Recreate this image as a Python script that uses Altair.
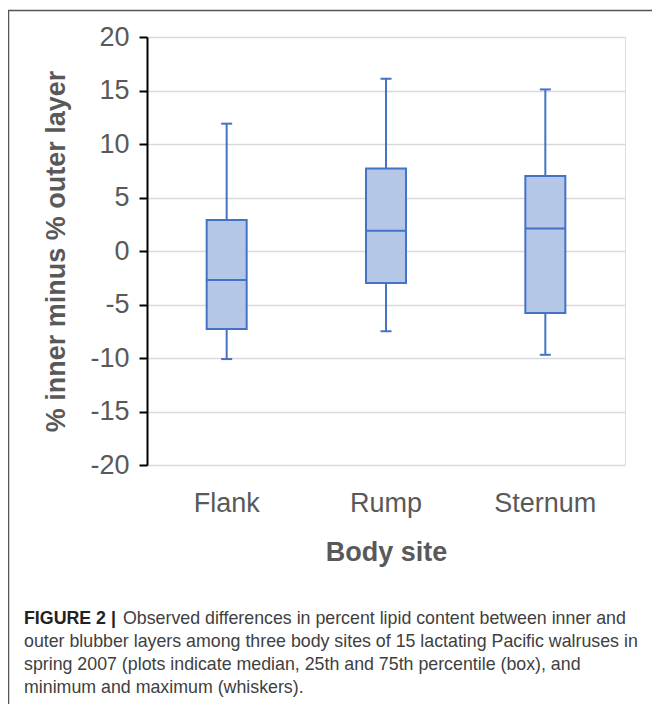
import altair as alt
import pandas as pd

# ---- data ----
sites = ["Flank", "Rump", "Sternum"]
mins = [-10.1, -7.5, -9.7]
q1s = [-7.3, -3.0, -5.8]
medians = [-2.7, 1.9, 2.1]
q3s = [2.9, 7.7, 7.0]
maxs = [11.9, 16.1, 15.1]
y_ticks = [-20, -15, -10, -5, 0, 5, 10, 15, 20]

caption_bold = "FIGURE 2 |"
caption_lines = [
    "Observed differences in percent lipid content between inner and",
    "outer blubber layers among three body sites of 15 lactating Pacific walruses in",
    "spring 2007 (plots indicate median, 25th and 75th percentile (box), and",
    "minimum and maximum (whiskers).",
]

df = pd.DataFrame({"site": sites, "min": mins, "q1": q1s, "median": medians,
                   "q3": q3s, "max": maxs})

W, H = 478, 428
FONT = "Liberation Sans"
GRAY = "#595959"
BLUE = "#4472c4"
FILL = "#b4c7e7"
YT = "% inner minus % outer layer"
CAP = 17.8

xenc = alt.X(
    "site:N", sort=sites, title="Body site",
    scale=alt.Scale(paddingInner=0, paddingOuter=0),
    axis=alt.Axis(labelAngle=0, domain=False, ticks=False, labelPadding=46,
                  labelBaseline="alphabetic", labelFontSize=27, labelColor=GRAY,
                  labelFont=FONT, titleFont=FONT, titleFontSize=27,
                  titleFontWeight="bold", titleColor=GRAY,
                  titleBaseline="alphabetic", titleY=95),
)
yscale = alt.Scale(domain=[-20, 20], nice=False)
yaxis = alt.Axis(values=y_ticks, labelExpr="toString(datum.value)",
                 domainColor="black", domainWidth=2,
                 tickColor="black", tickWidth=2, tickSize=8, labelPadding=10,
                 labelFontSize=27, labelColor=GRAY, labelFont=FONT,
                 gridColor="#d9d9d9", gridWidth=1.5,
                 titleFont=FONT, titleFontSize=27, titleFontWeight="bold",
                 titleColor=GRAY, titleX=-83, titleBaseline="alphabetic")


def yenc(field):
    return alt.Y(f"{field}:Q", title=YT, scale=yscale, axis=yaxis)


base = alt.Chart(df)
whisker = base.mark_rule(color=BLUE, strokeWidth=2).encode(
    x=xenc, y=yenc("min"), y2="max:Q")
box = base.mark_bar(size=40, fill=FILL, stroke=BLUE, strokeWidth=2).encode(
    x=xenc, y=yenc("q1"), y2="q3:Q")
median = base.mark_tick(size=40, thickness=2, color=BLUE, opacity=1).encode(
    x=xenc, y=yenc("median"))
cap_lo = base.mark_tick(size=11, thickness=2, color=BLUE, opacity=1).encode(
    x=xenc, y=yenc("min"))
cap_hi = base.mark_tick(size=11, thickness=2, color=BLUE, opacity=1).encode(
    x=xenc, y=yenc("max"))

one = alt.Chart(pd.DataFrame({"k": [0]}))
frame_top = one.mark_rule(color="#555555", strokeWidth=1.5).encode(
    x=alt.value(-139), x2=alt.value(W + 27), y=alt.value(-26.5),
    y2=alt.value(-26.5))
frame_left = one.mark_rule(color="#555555", strokeWidth=1.5).encode(
    x=alt.value(-138.5), x2=alt.value(-138.5), y=alt.value(-27),
    y2=alt.value(H + 240))

cap_b = one.mark_text(align="left", baseline="alphabetic", font=FONT,
                      fontSize=CAP, fontWeight="bold", color="#222222").encode(
    x=alt.value(-123), y=alt.value(587), text=alt.value(caption_bold))
cap_1 = one.mark_text(align="left", baseline="alphabetic", font=FONT,
                      fontSize=CAP, color="#404040").encode(
    x=alt.value(-24), y=alt.value(587), text=alt.value(caption_lines[0]))
cap_rest = one.mark_text(align="left", baseline="alphabetic", font=FONT,
                         fontSize=CAP, color="#404040", lineBreak="\n",
                         lineHeight=23).encode(
    x=alt.value(-123), y=alt.value(610),
    text=alt.value("\n".join(caption_lines[1:])))

chart = alt.layer(whisker, box, median, cap_lo, cap_hi,
                  frame_top, frame_left, cap_b, cap_1, cap_rest).properties(
    width=W, height=H,
    autosize=alt.AutoSizeParams(type="none"),
    padding={"left": 139, "top": 29, "right": 27, "bottom": 239},
).configure_view(stroke=None).configure(background="white")

chart.save("out.html", embed_options={"renderer": "svg", "actions": False})
